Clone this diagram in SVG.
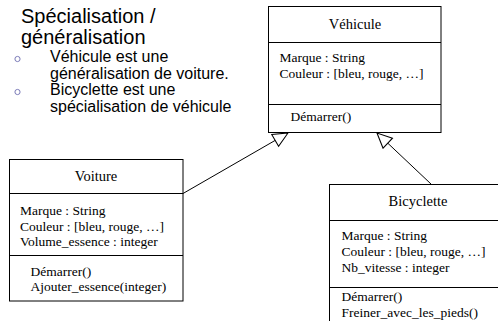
<svg xmlns="http://www.w3.org/2000/svg" width="498" height="321" viewBox="0 0 498 321">
<style>
.box{fill:#fff;stroke:#000;stroke-width:1}
.div{stroke:#000;stroke-width:1}
.ttl{font-family:"Liberation Serif","Times New Roman",serif;font-size:14.5px;fill:#000;text-anchor:middle}
.t{font-family:"Liberation Serif","Times New Roman",serif;font-size:13.5px;fill:#000}
.sans{font-family:"Liberation Sans",Arial,sans-serif;fill:#000}
.bul{fill:none;stroke:#7b7bb8;stroke-width:1}
.conn{stroke:#000;stroke-width:1;fill:none}
</style>
<defs>
<marker id="tri" markerUnits="userSpaceOnUse" markerWidth="18" markerHeight="16" refX="14" refY="6.5" orient="auto" viewBox="-1 -1 17 15">
<path d="M0,0 L14,6.5 L0,13 Z" fill="#fff" stroke="#000" stroke-width="1"/>
</marker>
</defs>
<g id="text-block">
<text class="sans" x="21" y="23" font-size="20">Spécialisation /</text>
<text class="sans" x="21" y="44" font-size="20">généralisation</text>
<circle class="bul" cx="17.5" cy="59" r="2.6"/>
<text class="sans" x="50" y="62" font-size="16">Véhicule est une</text>
<text class="sans" x="50" y="79" font-size="16">généralisation de voiture.</text>
<circle class="bul" cx="17.5" cy="92" r="2.6"/>
<text class="sans" x="50" y="95" font-size="16">Bicyclette est une</text>
<text class="sans" x="50" y="112" font-size="16">spécialisation de véhicule</text>
</g>
<g id="connectors">
<line class="conn" x1="183" y1="193.5" x2="288" y2="133" marker-end="url(#tri)"/>
<line class="conn" x1="431" y1="184" x2="377" y2="133" marker-end="url(#tri)"/>
</g>
<g id="vehicule">
<rect class="box" x="268.5" y="6.5" width="172.5" height="126"/>
<line class="div" x1="268.5" y1="42.5" x2="441" y2="42.5"/>
<line class="div" x1="268.5" y1="104.5" x2="441" y2="104.5"/>
<text class="ttl" x="355" y="29">Véhicule</text>
<text class="t" x="279.5" y="62">Marque : String</text>
<text class="t" x="279.5" y="78">Couleur : [bleu, rouge, …]</text>
<text class="t" x="290.5" y="121">Démarrer()</text>
</g>
<g id="voiture">
<rect class="box" x="9.5" y="159.5" width="173.5" height="141.5"/>
<line class="div" x1="9.5" y1="193.5" x2="183" y2="193.5"/>
<line class="div" x1="9.5" y1="255.5" x2="183" y2="255.5"/>
<text class="ttl" x="96" y="181">Voiture</text>
<text class="t" x="20" y="215">Marque : String</text>
<text class="t" x="20" y="231">Couleur : [bleu, rouge, …]</text>
<text class="t" x="20" y="246">Volume_essence : integer</text>
<text class="t" x="30.5" y="276">Démarrer()</text>
<text class="t" x="30.5" y="291">Ajouter_essence(integer)</text>
</g>
<g id="bicyclette">
<rect class="box" x="329.5" y="184.5" width="175" height="150"/>
<line class="div" x1="329.5" y1="220.5" x2="504" y2="220.5"/>
<line class="div" x1="329.5" y1="287.5" x2="504" y2="287.5"/>
<text class="ttl" x="418" y="206">Bicyclette</text>
<text class="t" x="341.5" y="240">Marque : String</text>
<text class="t" x="341.5" y="256">Couleur : [bleu, rouge, …]</text>
<text class="t" x="341.5" y="272">Nb_vitesse : integer</text>
<text class="t" x="341.5" y="301">Démarrer()</text>
<text class="t" x="341.5" y="317">Freiner_avec_les_pieds()</text>
</g>
</svg>
